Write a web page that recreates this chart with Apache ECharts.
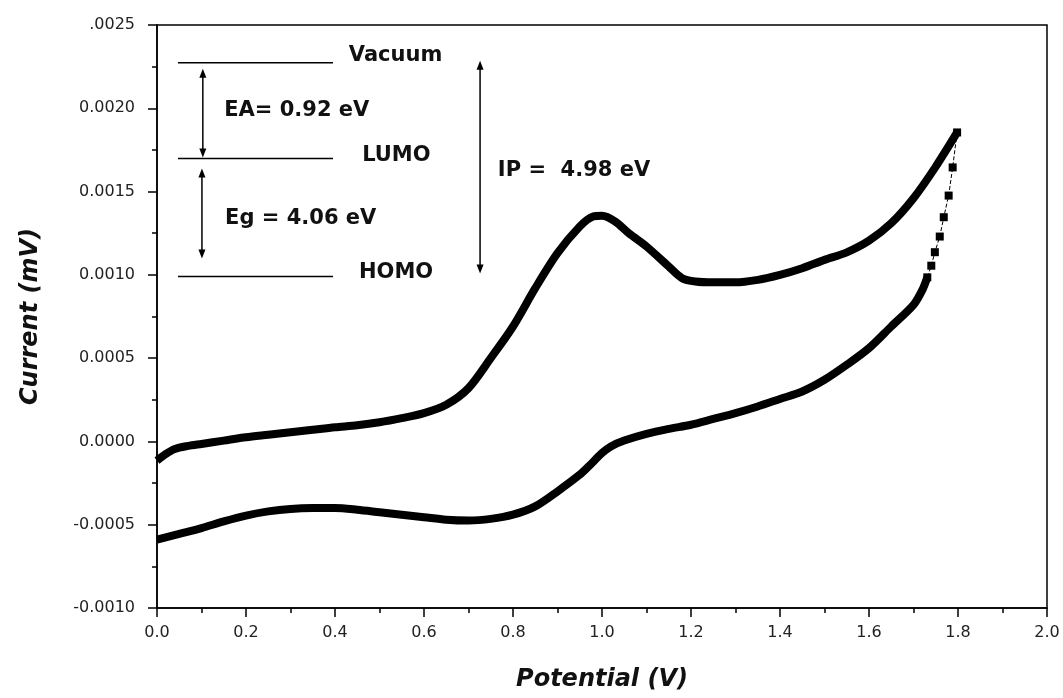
<!DOCTYPE html>
<html><head><meta charset="utf-8">
<script src="https://cdn.jsdelivr.net/npm/echarts@6/dist/echarts.min.js"></script>
<style>html,body{margin:0;padding:0;background:#fff}#c{width:1063px;height:698px}</style>
</head><body><div id="c"></div>
<script>
// Potential (V), Current
const forwardScan = [
 [0.00,-0.000115],[0.02,-0.000075],[0.04,-0.000045],[0.07,-0.000027],[0.10,-0.000015],
 [0.15,0.000005],[0.20,0.000025],[0.25,0.000040],[0.30,0.000055],[0.35,0.000070],
 [0.40,0.000085],[0.45,0.000097],[0.50,0.000115],[0.55,0.000140],[0.60,0.000170],
 [0.65,0.000220],[0.70,0.000320],[0.75,0.000500],[0.80,0.000690],[0.85,0.000920],
 [0.90,0.001130],[0.95,0.001290],[0.98,0.001350],[1.00,0.001355],[1.03,0.001320],
 [1.06,0.001250],[1.10,0.001170],[1.15,0.001050],[1.18,0.000980],[1.21,0.000960],
 [1.25,0.000955],[1.30,0.000955],[1.35,0.000970],[1.40,0.001000],[1.45,0.001040],
 [1.50,0.001090],[1.55,0.001135],[1.60,0.001205],[1.65,0.001310],[1.70,0.001460],
 [1.75,0.001650],[1.798,0.001855]
];
const reverseVertex = [
 [1.798,0.001855],[1.788,0.001645],[1.779,0.001476],[1.768,0.001346],[1.759,0.001230],
 [1.748,0.001136],[1.740,0.001055],[1.731,0.000985]
];
const reverseScan = [
 [1.731,0.000985],[1.72,0.000910],[1.70,0.000820],[1.65,0.000690],[1.60,0.000560],
 [1.55,0.000460],[1.50,0.000370],[1.45,0.000300],[1.40,0.000255],[1.35,0.000210],
 [1.30,0.000170],[1.25,0.000135],[1.20,0.000100],[1.15,0.000075],[1.10,0.000045],
 [1.05,0.000005],[1.02,-0.000030],[1.00,-0.000070],[0.97,-0.000150],[0.95,-0.000200],
 [0.90,-0.000300],[0.85,-0.000390],[0.80,-0.000440],[0.75,-0.000465],[0.70,-0.000475],
 [0.65,-0.000470],[0.60,-0.000455],[0.55,-0.000440],[0.50,-0.000425],[0.45,-0.000410],
 [0.40,-0.000400],[0.35,-0.000400],[0.30,-0.000405],[0.25,-0.000420],[0.20,-0.000445],
 [0.15,-0.000480],[0.10,-0.000520],[0.05,-0.000555],[0.00,-0.000590]
];
// Energy diagram (inset), in chart data units
const levelNames = ['Vacuum','LUMO','HOMO'];
const levelCurrents = [0.002274, 0.001698, 0.000990];
const energyTexts = ['EA= 0.92 eV','Eg = 4.06 eV','IP =  4.98 eV'];
const yTopLabel = '.0025';

const font = 'DejaVu Sans';
const chart = echarts.init(document.getElementById('c'));

function arrow(api, x, y1, y2) {
  const a = api.coord([x, y1]), b = api.coord([x, y2]);
  const hl = 9, hw = 3.5;
  return [
    {type:'line', shape:{x1:a[0],y1:a[1]+4,x2:b[0],y2:b[1]-4}, style:{stroke:'#000',lineWidth:1.5}},
    {type:'polygon', shape:{points:[[a[0],a[1]],[a[0]-hw,a[1]+hl],[a[0]+hw,a[1]+hl]]}, style:{fill:'#000'}},
    {type:'polygon', shape:{points:[[b[0],b[1]],[b[0]-hw,b[1]-hl],[b[0]+hw,b[1]-hl]]}, style:{fill:'#000'}}
  ];
}
function txt(api, x, y, s) {
  const p = api.coord([x, y]);
  return {type:'text', x:p[0], y:p[1], style:{text:s, fill:'#111', font:'bold 21px "DejaVu Sans"', align:'left', verticalAlign:'middle'}};
}

const option = {
  animation: false,
  backgroundColor: '#fff',
  grid: {left:157, right:16, top:25, bottom:90, show:true, borderColor:'#000', borderWidth:1.5},
  xAxis: {
    type:'value', min:0, max:2, interval:0.2,
    name:'Potential (V)', nameLocation:'middle', nameGap:60,
    nameTextStyle:{fontFamily:font, fontWeight:'bold', fontStyle:'italic', fontSize:24, color:'#111'},
    axisLine:{show:true, onZero:false, lineStyle:{color:'#000', width:1.5}},
    axisTick:{show:true, inside:false, length:9, lineStyle:{color:'#000', width:1.5}},
    minorTick:{show:true, splitNumber:2, length:5, lineStyle:{color:'#000', width:1.5}},
    splitLine:{show:false},
    axisLabel:{margin:17, fontFamily:font, fontSize:16, color:'#222', formatter:v=>v.toFixed(1)}
  },
  yAxis: {
    type:'value', min:-0.001, max:0.0025, interval:0.0005,
    name:'Current (mV)', nameLocation:'middle', nameGap:114, nameRotate:90,
    nameTextStyle:{fontFamily:font, fontWeight:'bold', fontStyle:'italic', fontSize:24, color:'#111'},
    axisLine:{show:true, onZero:false, lineStyle:{color:'#000', width:1.5}},
    axisTick:{show:true, inside:false, length:9, lineStyle:{color:'#000', width:1.5}},
    minorTick:{show:true, splitNumber:2, length:5, lineStyle:{color:'#000', width:1.5}},
    splitLine:{show:false},
    axisLabel:{margin:22, fontFamily:font, fontSize:16, color:'#222',
      formatter:v=> Math.abs(v-0.0025)<1e-9 ? yTopLabel : v.toFixed(4)}
  },
  series: [
    {type:'line', data:forwardScan, showSymbol:false, smooth:0.3, lineStyle:{color:'#000', width:8, join:'round'}, z:3},
    {type:'line', data:reverseScan, showSymbol:false, smooth:0.3, lineStyle:{color:'#000', width:8, join:'round'}, z:3},
    {type:'line', data:reverseVertex, symbol:'rect', symbolSize:8, showSymbol:true,
      itemStyle:{color:'#000'}, lineStyle:{color:'#000', width:1, type:'dashed'}, z:4},
    {type:'custom', coordinateSystem:'cartesian2d', silent:true, clip:false, z:5, data:[[0,0]],
      renderItem:function(params, api){
        const ch = [];
        const textX = [0.431, 0.461, 0.454];
        const textDy = [0.000042, 0.000018, 0.000024];
        levelCurrents.forEach((e,i)=>{
          const a = api.coord([0.0472, e]), b = api.coord([0.3955, e]);
          ch.push({type:'line', shape:{x1:a[0],y1:a[1],x2:b[0],y2:b[1]}, style:{stroke:'#000', lineWidth:1.5}});
          ch.push(txt(api, textX[i], e + textDy[i], levelNames[i]));
        });
        ch.push(...arrow(api, 0.103, levelCurrents[0]-0.000036, levelCurrents[1]+0.000006));
        ch.push(...arrow(api, 0.101, levelCurrents[1]-0.000060, levelCurrents[2]+0.000108));
        ch.push(...arrow(api, 0.726, levelCurrents[0]+0.000012, levelCurrents[2]+0.000018));
        ch.push(txt(api, 0.151, 0.001986, energyTexts[0]));
        ch.push(txt(api, 0.153, 0.001338, energyTexts[1]));
        ch.push(txt(api, 0.766, 0.001626, energyTexts[2]));
        return {type:'group', children:ch};
      }}
  ]
};
chart.setOption(option);
</script>
</body></html>
